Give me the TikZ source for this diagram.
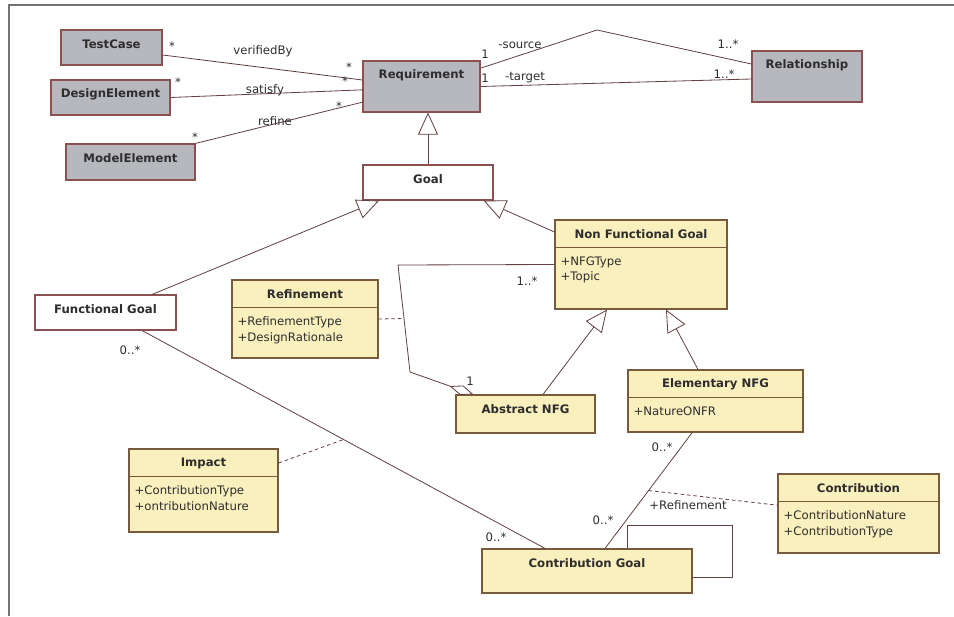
\documentclass[tikz,border=0pt]{standalone}
\usepackage{fontspec}
\setmainfont{DejaVu Sans}
\usetikzlibrary{arrows.meta,fit,positioning}
\definecolor{reqgray}{RGB}{182,184,190}
\definecolor{boxred}{RGB}{140,80,80}
\definecolor{classyellow}{RGB}{250,240,190}
\definecolor{classbrown}{RGB}{120,90,60}
\definecolor{linebrown}{RGB}{100,65,65}
\definecolor{textgray}{RGB}{45,45,45}
\definecolor{framegray}{RGB}{115,115,115}
\tikzset{
  graybox/.style={draw=boxred,fill=reqgray,line width=1pt,inner sep=0pt},
  whitebox/.style={draw=boxred,fill=white,line width=1pt,inner sep=0pt},
  yellowbox/.style={draw=classbrown,fill=classyellow,line width=1pt,inner sep=0pt},
  classtitle/.style={font=\fontsize{10}{12}\selectfont\bfseries,text=textgray,inner sep=0pt},
  attrtext/.style={font=\fontsize{10}{13.6}\selectfont,text=textgray,align=left,inner sep=0pt,anchor=north west},
  assoc/.style={draw=linebrown,line width=0.7pt},
  depend/.style={assoc,dash pattern=on 3pt off 2.5pt},
  inherit/.style={assoc,-{Triangle[length=0.66cm,width=0.6cm,fill=white]}},
  multlabel/.style={font=\fontsize{10}{12}\selectfont,text=textgray,inner sep=1pt}
}

\begin{document}
\begin{tikzpicture}[x=0.03cm,y=-0.03cm]
  \useasboundingbox (0,0) rectangle (954,616);
  \draw[framegray,line width=1.5pt] (9,616) -- (9,5) -- (954,5);

  % setup the gray boxes
  \foreach \name/\xl/\yt/\xr/\yb/\ttl in {tc/61/30/162/65/TestCase,
      de/51/80/170/115/DesignElement, me/66/144/195/180/ModelElement,
      req/363/61/480/112/Requirement, rel/752/51/862/102/Relationship}
  {
    \node[graybox,fit={(\xl,\yt) (\xr,\yb)}] (\name) {};
    \node[classtitle] (\name-title) at ([yshift=-0.45cm]\name.north) {\ttl};
  }
  % white boxes
  \foreach \name/\xl/\yt/\xr/\yb/\ttl in {goal/363/165/493/200/Goal,
      fg/35/295/176/330/Functional Goal}
  {
    \node[whitebox,fit={(\xl,\yt) (\xr,\yb)}] (\name) {};
    \node[classtitle] (\name-title) at ([yshift=-0.45cm]\name.north) {\ttl};
  }
  % yellow boxes without attributes
  \foreach \name/\xl/\yt/\xr/\yb/\ttl in {anfg/456/395/595/433/Abstract NFG,
      cg/482/549/692/593/Contribution Goal}
  {
    \node[yellowbox,fit={(\xl,\yt) (\xr,\yb)}] (\name) {};
    \node[classtitle] (\name-title) at ([yshift=-0.45cm]\name.north) {\ttl};
  }
  % yellow boxes with attributes
  \foreach \name/\xl/\yt/\xr/\yb/\ttl/\attrs in {
      ref/232/280/378/358/Refinement/{+RefinementType\\+DesignRationale},
      nfg/555/220/727/309/Non Functional Goal/{+NFGType\\+Topic},
      enfg/628/370/803/432/Elementary NFG/{+NatureONFR},
      imp/129/449/278/532/Impact/{+ContributionType\\+ontributionNature},
      con/778/474/939/553/Contribution/{+ContributionNature\\+ContributionType}}
  {
    \node[yellowbox,fit={(\xl,\yt) (\xr,\yb)}] (\name) {};
    \node[classtitle] (\name-title) at ([yshift=-0.45cm]\name.north) {\ttl};
    \draw[classbrown,line width=1pt] ([yshift=-0.84cm]\name.north west) -- ([yshift=-0.84cm]\name.north east);
    \node[attrtext] (\name-attr) at ([xshift=0.18cm,yshift=-1.1cm]\name.north west) {\attrs};
  }

  % associations to the requirement
  \draw[assoc] ([yshift=-0.225cm]tc.east) -- ([yshift=0.195cm]req.west);
  \draw[assoc] (de.east) -- ([yshift=-0.1cm]req.west);
  \draw[assoc] (me.north east) -- ([yshift=-0.47cm]req.west);
  \coordinate (peak) at (597,30);
  \draw[assoc] ([yshift=0.55cm]req.east) -- (peak) -- ([yshift=0.375cm]rel.west);
  \draw[assoc] (req.east) -- ([yshift=-0.075cm]rel.west);

  % generalisations
  \draw[inherit] (goal.north) -- (goal.north |- req.south);
  \draw[inherit] ([xshift=1.4cm]fg.north) -- ([xshift=0.5cm]goal.south west);
  \draw[inherit] ([yshift=0.975cm]nfg.west) -- ([xshift=-0.3cm]goal.south east);
  \draw[inherit] ([xshift=0.525cm]anfg.north) -- ([xshift=-1.02cm]nfg.south);
  \draw[inherit] ([xshift=-0.525cm]enfg.north) -- ([xshift=0.75cm]nfg.south);

  % aggregation
  \coordinate (bendtop) at (398,265);
  \coordinate (bendlow) at (410,372);
  \draw[assoc,-{Diamond[length=0.75cm,width=0.3cm,fill=white]}] (nfg.west) -- (bendtop)
    -- coordinate[pos=0.5] (aggmid) (bendlow) -- ([xshift=0.54cm]anfg.north west);
  \draw[depend] (ref.east) -- (aggmid);

  % contributions
  \draw[assoc] ([xshift=1.1cm]fg.south) -- coordinate[pos=0.5] (fgmid) ([xshift=-1.26cm]cg.north);
  \draw[depend] ([yshift=0.825cm]imp.east) -- (fgmid);
  \draw[assoc] ([xshift=-0.7cm]enfg.south) -- coordinate[pos=0.5] (enfgmid) ([xshift=0.54cm]cg.north);
  \draw[depend] (enfgmid) -- ([yshift=0.25cm]con.west);
  \draw[assoc] ([xshift=1.2cm]cg.north) |- (732,525) |- ([yshift=-0.18cm]cg.east);

  % multiplicities and roles
  \foreach \x/\y/\txt [count=\i] in {172/46/*, 263/51/verifiedBy, 349/67/*,
      178/82/*, 265/90/satisfy, 345/81/*, 195/137/*, 275/121/refine, 339/106/*,
      485/54/1, 520/45/-source, 728/44/1..*, 485/78/1, 525/78/-target, 724/74/1..*,
      527/281/1..*, 470/381/1, 130/350/0..*, 496/537/0..*, 662/447/0..*,
      603/520/0..*, 688/505/+Refinement}
  {
    \node[multlabel] (lbl\i) at (\x,\y) {\txt};
  }
\end{tikzpicture}
\end{document}
